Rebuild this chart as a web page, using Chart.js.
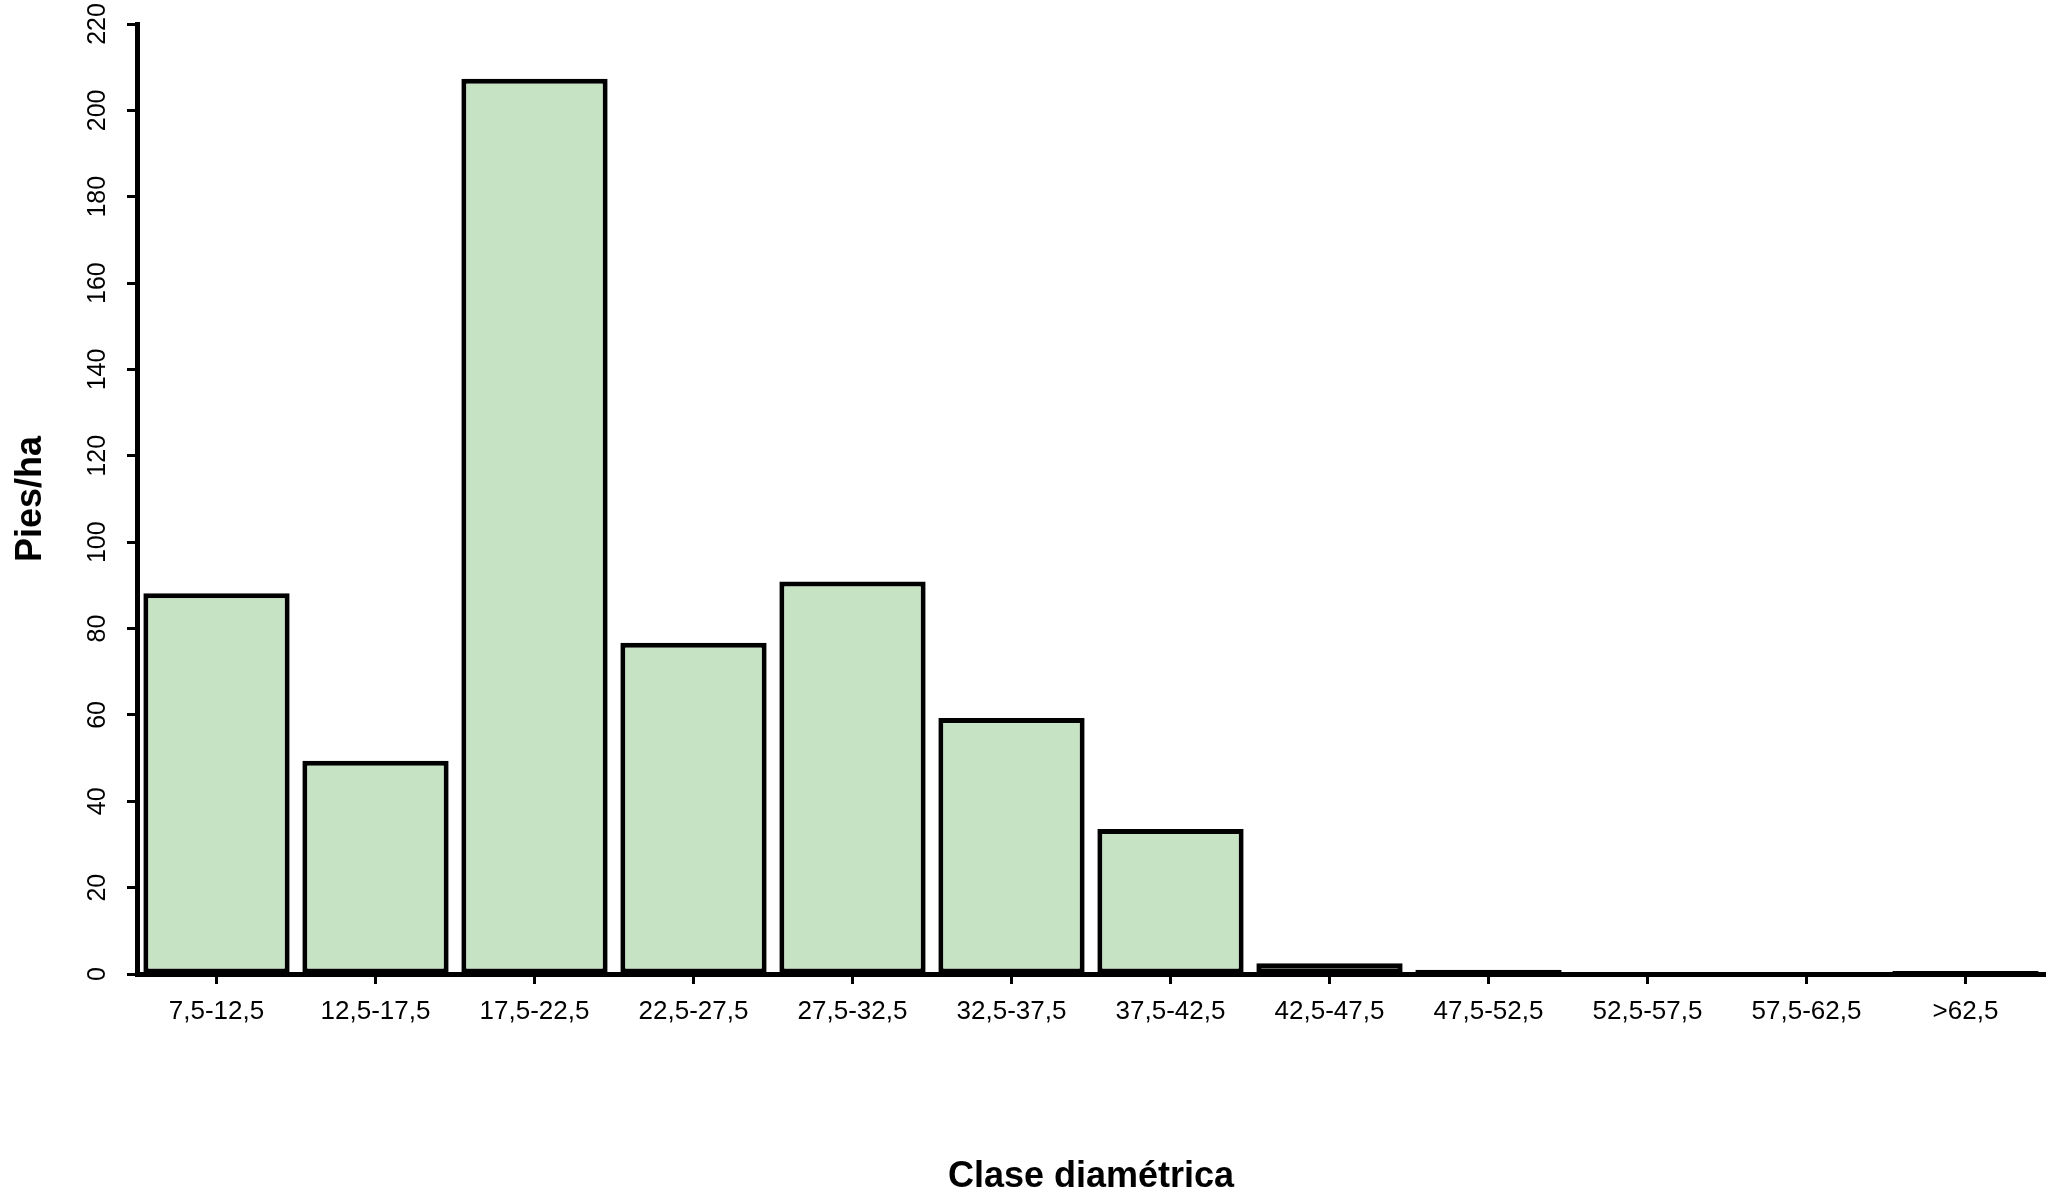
<!DOCTYPE html>
<html>
<head>
<meta charset="utf-8">
<script src="https://cdn.jsdelivr.net/npm/chart.js@4"></script>
<style>
  html, body { margin: 0; padding: 0; background: #fff; }
  #piesChart { display: block; }
</style>
</head>
<body>
<canvas id="piesChart" width="2051" height="1192"></canvas>
<script>
// Clases diamétricas (cm) y pies por hectárea
const clases = ["7,5-12,5", "12,5-17,5", "17,5-22,5", "22,5-27,5", "27,5-32,5", "32,5-37,5",
  "37,5-42,5", "42,5-47,5", "47,5-52,5", "52,5-57,5", "57,5-62,5", ">62,5"];
const piesHa = [88.2, 49.4, 207.3, 76.7, 90.9, 59.3, 33.6, 2.5, 1, 0, 0, 0.7];
const yMin = 0;
const yMax = 220;
const yStep = 20;

const narrow = "'Liberation Sans Narrow', 'Arial Narrow', 'Liberation Sans', Arial, sans-serif";
const bold = "'Liberation Sans', Arial, sans-serif";

const piesData = {
  labels: clases,
  datasets: [
    {
      label: "Pies/ha",
      data: piesHa,
      backgroundColor: "#c6e3c3",
      borderColor: "#000",
      borderWidth: 5,
      borderSkipped: false,
      barPercentage: 0.92,
      categoryPercentage: 1,
    },
  ],
};

const piesConfig = {
  type: "bar",
  data: piesData,
  options: {
    responsive: false,
    animation: false,
    layout: { padding: { top: 24, right: 6, left: 0, bottom: 0 } },
    plugins: { legend: { display: false }, tooltip: { enabled: false } },
    scales: {
      x: {
        grid: {
          offset: false,
          drawOnChartArea: false,
          drawTicks: true,
          tickLength: 10,
          tickWidth: 3,
          tickColor: "#000",
        },
        border: { display: true, color: "#000", width: 5 },
        ticks: {
          color: "#000",
          font: { family: narrow, size: 26 },
          padding: 12,
          maxRotation: 0,
          minRotation: 0,
          autoSkip: false,
        },
        title: {
          display: true,
          text: "Clase diamétrica",
          color: "#000",
          font: { family: bold, size: 36, weight: "bold", lineHeight: 0.85 },
          padding: { top: 0, bottom: 0 },
        },
        afterFit: (scale) => { scale.height = 218; },
      },
      y: {
        min: yMin,
        max: yMax,
        grid: {
          drawOnChartArea: false,
          drawTicks: true,
          tickLength: 10,
          tickWidth: 3,
          tickColor: "#000",
        },
        border: { display: true, color: "#000", width: 5 },
        ticks: {
          stepSize: yStep,
          color: "#000",
          font: { family: narrow, size: 25 },
          minRotation: 90,
          maxRotation: 90,
          crossAlign: "center",
          padding: 8,
        },
        title: {
          display: true,
          text: "Pies/ha",
          color: "#000",
          font: { family: bold, size: 36, weight: "bold", lineHeight: 0.85 },
          padding: { top: 16, bottom: 0 },
        },
        afterFit: (scale) => { scale.width = 137; },
      },
    },
  },
};

const piesChart = new Chart(document.getElementById("piesChart"), piesConfig);
</script>
</body>
</html>
